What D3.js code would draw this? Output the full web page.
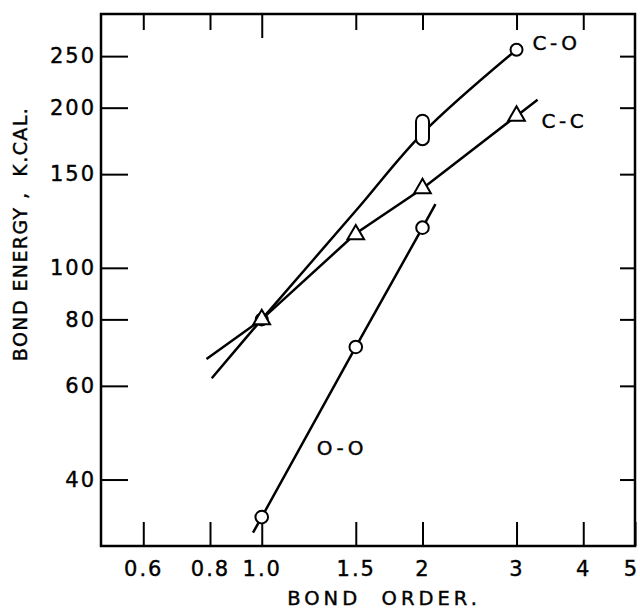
<!DOCTYPE html>
<html>
<head>
<meta charset="utf-8">
<script src="https://cdn.jsdelivr.net/npm/d3@7/dist/d3.min.js"></script>
<style>
  body { margin: 0; background: #fff; }
  svg { display: block; }
  text { font-family: "DejaVu Sans", sans-serif; fill: #000; }
</style>
</head>
<body>
<svg id="chart" width="640" height="610"></svg>
<script>
// ---- data ----
const xTicks = [0.6, 0.8, 1.0, 1.5, 2, 3, 4, 5];
const xTickLabels = ["0.6", "0.8", "1.0", "1.5", "2", "3", "4", "5"];
const yTicks = [40, 60, 80, 100, 150, 200, 250];
const yTickLabels = ["40", "60", "80", "100", "150", "200", "250"];

// C-O : curve and measured points
const coCurveX = [0.806, 1.0, 1.5, 2.0, 3.0];
const coCurveY = [62, 80, 128, 179, 257];
const coCircleX = [3.0];
const coCircleY = [257];
const coRangeX = [2.0];
const coRangeLow = [170];
const coRangeHigh = [194];

// C-C
const ccLineX = [0.788, 1.0, 1.5, 2.0, 3.0, 3.285];
const ccLineY = [67.4, 80, 116, 141, 193, 207];
const ccTriX = [1.0, 1.5, 2.0, 3.0];
const ccTriY = [80, 115.5, 141, 193];

// O-O
const ooLineX = [0.963, 1.0, 1.5, 2.0, 2.115];
const ooLineY = [31.8, 34, 71, 119, 131.8];
const ooCircleX = [1.0, 1.5, 2.0];
const ooCircleY = [34, 71, 119];

// shared point at bond order 1 for C-O
const coSharedX = [1.0];
const coSharedY = [80];

const xTitle = "BOND  ORDER.";
const yTitle = "BOND ENERGY ,  K.CAL.";

// ---- drawing ----
const svg = d3.select("#chart");
const L = 101, R = 635, T = 14, B = 546;
const x = d3.scaleLog().domain([0.5, 5]).range([L, R]);
const y = d3.scaleLog().domain([30, 300]).range([B, T]);

const fontSize = 20;

// axes
const gB = svg.append("g").attr("transform", `translate(0,${B})`)
  .call(d3.axisBottom(x).tickValues(xTicks).tickFormat((d, i) => xTickLabels[i])
    .tickSizeInner(-24).tickSizeOuter(0).tickPadding(15));
const gT = svg.append("g").attr("transform", `translate(0,${T})`)
  .call(d3.axisTop(x).tickValues(xTicks.filter(d => d < 5)).tickFormat("")
    .tickSizeInner(-16).tickSizeOuter(0));
const gL = svg.append("g").attr("transform", `translate(${L},0)`)
  .call(d3.axisLeft(y).tickValues(yTicks).tickFormat((d, i) => yTickLabels[i])
    .tickSizeInner(-27).tickSizeOuter(0).tickPadding(5));
const gR = svg.append("g").attr("transform", `translate(${R},0)`)
  .call(d3.axisRight(y).tickValues(yTicks).tickFormat("")
    .tickSizeInner(-15).tickSizeOuter(0));

[gB, gT, gL, gR].forEach(g => {
  g.select(".domain").remove();
  g.selectAll(".tick line").attr("stroke", "#000").attr("stroke-width", 2);
  g.selectAll(".tick text").attr("font-size", 21)
    .attr("font-family", "DejaVu Sans, sans-serif")
    .attr("letter-spacing", 2).attr("fill", "#000")
    .attr("stroke", "#000").attr("stroke-width", 0.4);
});
// longer top tick at bond order 1.0
gT.selectAll(".tick line").filter(d => d === 1.0).attr("y2", 24);
// last x label sits at the frame's edge; keep it inside the page
gB.selectAll(".tick text").filter(d => d === 5).attr("dx", -4);

// frame
svg.append("rect").attr("x", L).attr("y", T).attr("width", R - L).attr("height", B - T)
  .attr("fill", "none").attr("stroke", "#000").attr("stroke-width", 2.5);

// axis titles
svg.append("text").attr("x", 384).attr("y", 605)
  .attr("text-anchor", "middle").attr("font-size", 19.5)
  .attr("stroke", "#000").attr("stroke-width", 0.4)
  .attr("letter-spacing", 4).style("white-space", "pre").text(xTitle);
svg.append("text").attr("transform", "translate(27,234) rotate(-90)")
  .attr("text-anchor", "middle").attr("font-size", 19)
  .attr("stroke", "#000").attr("stroke-width", 0.4)
  .attr("letter-spacing", 1.4).style("white-space", "pre").text(yTitle);

const lineGen = d3.line().x(d => x(d[0])).y(d => y(d[1]));
const lw = 2.5;

// C-O curve
svg.append("path")
  .attr("d", lineGen.curve(d3.curveCatmullRom.alpha(0.5))(coCurveX.map((v, i) => [v, coCurveY[i]])))
  .attr("fill", "none").attr("stroke", "#000").attr("stroke-width", lw);

// C-C line
svg.append("path")
  .attr("d", d3.line().x(d => x(d[0])).y(d => y(d[1]))(ccLineX.map((v, i) => [v, ccLineY[i]])))
  .attr("fill", "none").attr("stroke", "#000").attr("stroke-width", lw);

// O-O line
svg.append("path")
  .attr("d", d3.line().x(d => x(d[0])).y(d => y(d[1]))(ooLineX.map((v, i) => [v, ooLineY[i]])))
  .attr("fill", "none").attr("stroke", "#000").attr("stroke-width", lw);

// markers
const tri = d3.symbol().type(d3.symbolTriangle).size(120);
const mk = svg.append("g").attr("fill", "#fff").attr("stroke", "#000").attr("stroke-width", 2);

mk.selectAll("circle.co-shared").data(coSharedX.map((v, i) => [v, coSharedY[i]])).join("circle")
  .attr("class", "co-shared")
  .attr("cx", d => x(d[0])).attr("cy", d => y(d[1])).attr("r", 6);
mk.selectAll("path.tri").data(ccTriX.map((v, i) => [v, ccTriY[i]])).join("path")
  .attr("class", "tri")
  .attr("transform", d => `translate(${x(d[0])},${y(d[1])})`).attr("d", tri);

mk.selectAll("circle.co").data(coCircleX.map((v, i) => [v, coCircleY[i]])).join("circle")
  .attr("class", "co").attr("cx", d => x(d[0])).attr("cy", d => y(d[1])).attr("r", 6);
mk.selectAll("circle.oo").data(ooCircleX.map((v, i) => [v, ooCircleY[i]])).join("circle")
  .attr("class", "oo").attr("cx", d => x(d[0])).attr("cy", d => y(d[1])).attr("r", 6.3);

// range pill for C-O at bond order 2
mk.selectAll("rect.rng").data(coRangeX.map((v, i) => [v, coRangeLow[i], coRangeHigh[i]])).join("rect")
  .attr("class", "rng")
  .attr("x", d => x(d[0]) - 6.5).attr("width", 13)
  .attr("y", d => y(d[2])).attr("height", d => y(d[1]) - y(d[2]))
  .attr("rx", 6.5).attr("ry", 6.5);

// series labels
const labels = [
  { t: "C-O", px: 3.0, py: 257, dx: 16, dy: 0 },
  { t: "C-C", px: 3.285, py: 207, dx: 4, dy: 28 },
  { t: "O-O", px: 1.5, py: 71, dx: -39, dy: 108 }
];
svg.selectAll("text.lbl").data(labels).join("text")
  .attr("class", "lbl")
  .attr("x", d => x(d.px) + d.dx).attr("y", d => y(d.py) + d.dy)
  .attr("font-size", fontSize).attr("letter-spacing", 3.5)
  .attr("stroke", "#000").attr("stroke-width", 0.4).text(d => d.t);
</script>
</body>
</html>
